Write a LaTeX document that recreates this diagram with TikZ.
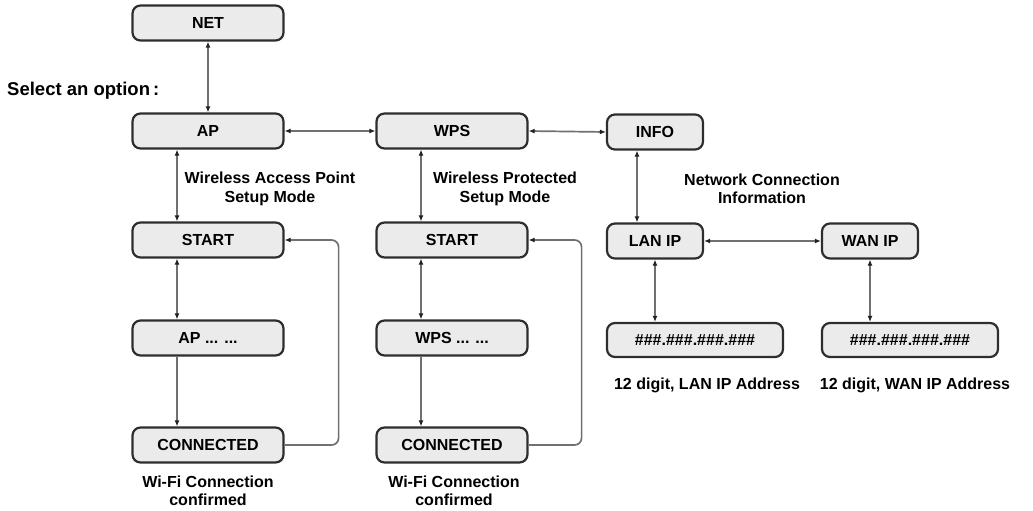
\documentclass[tikz,border=0pt]{standalone}
\usepackage{fontspec}
\setmainfont{Liberation Sans}
\usetikzlibrary{arrows.meta}
\definecolor{boxfill}{HTML}{EBEBEB}
\definecolor{boxline}{HTML}{2E2E2E}
\definecolor{linkgray}{HTML}{707070}
\definecolor{tipcol}{HTML}{222222}
\tikzset{
  box/.style={draw=boxline, line width=2.2pt, fill=boxfill, rounded corners=8pt,
    minimum width=151pt, minimum height=35pt, inner sep=0pt,
    font=\fontsize{16}{18}\selectfont\bfseries},
  smallbox/.style={box, minimum width=96pt},
  addrbox/.style={box, minimum width=176pt, minimum height=34pt},
  lbl/.style={font=\fontsize{16}{18.5}\selectfont\bfseries, align=center, inner sep=0pt},
  tip/.tip={Latex[length=6pt,width=5pt,color=tipcol]},
  link/.style={draw=linkgray, line width=1.7pt},
  dbl/.style={link, {tip}-{tip}},
  one/.style={link, -{tip}},
}
\begin{document}
\begin{tikzpicture}[x=1pt,y=-1pt]
\useasboundingbox (0,0) rectangle (1033,511);
% nodes
\node[box] (net) at (208,23) {NET};
\node[box] (ap) at (208,131) {AP};
\node[box] (wps) at (452,131) {WPS};
\node[smallbox] (info) at (655,132) {INFO};
\node[box] (start1) at (208,240) {START};
\node[box] (start2) at (452,240) {START};
\node[smallbox] (lan) at (655,241) {LAN IP};
\node[smallbox] (wan) at (870,241) {WAN IP};
\node[box] (apd) at (208,338) {AP ... ...};
\node[box] (wpsd) at (452,338) {WPS ... ...};
\node[box] (conn1) at (208,445) {CONNECTED};
\node[box] (conn2) at (452,445) {CONNECTED};
\node[addrbox] (lanaddr) at (695,340) {\#\#\#.\#\#\#.\#\#\#.\#\#\#};
\node[addrbox] (wanaddr) at (910,340) {\#\#\#.\#\#\#.\#\#\#.\#\#\#};
% labels
\node[lbl, anchor=west, font=\fontsize{18.5}{21}\selectfont\bfseries] (sel) at (7,91) {Select an option\hspace{3pt}:};
\node[lbl] (l1) at (270,189) {Wireless Access Point\\Setup Mode};
\node[lbl] (l2) at (505,189) {Wireless Protected\\Setup Mode};
\node[lbl] (l3) at (762,189) {Network Connection\\Information};
\node[lbl] (l4) at (208,491) {Wi-Fi Connection\\confirmed};
\node[lbl] (l5) at (454,491) {Wi-Fi Connection\\confirmed};
\node[lbl] (l6) at (707,385) {12 digit, LAN IP Address};
\node[lbl] (l7) at (915,385) {12 digit, WAN IP Address};
% connectors
\draw[dbl] (net.south) -- (ap.north);
\draw[dbl] (ap.east) -- (wps.west);
\draw[dbl] (wps.east) -- (info.west);
\draw[dbl] ([xshift=-31pt]ap.south) -- ([xshift=-31pt]start1.north);
\draw[dbl] ([xshift=-31pt]start1.south) -- ([xshift=-31pt]apd.north);
\draw[one] ([xshift=-31pt]apd.south) -- ([xshift=-31pt]conn1.north);
\draw[dbl] ([xshift=-31pt]wps.south) -- ([xshift=-31pt]start2.north);
\draw[dbl] ([xshift=-31pt]start2.south) -- ([xshift=-31pt]wpsd.north);
\draw[one] ([xshift=-31pt]wpsd.south) -- ([xshift=-31pt]conn2.north);
\draw[one, rounded corners=7pt] (conn1.east) -| ([xshift=54pt]start1.east) -- (start1.east);
\draw[one, rounded corners=7pt] (conn2.east) -| ([xshift=53pt]start2.east) -- (start2.east);
\draw[dbl] ([xshift=-18pt]info.south) -- ([xshift=-18pt]lan.north);
\draw[dbl] (lan.east) -- (wan.west);
\draw[dbl] (lan.south) -- (lan.south |- lanaddr.north);
\draw[dbl] (wan.south) -- (wan.south |- wanaddr.north);
\end{tikzpicture}
\end{document}
